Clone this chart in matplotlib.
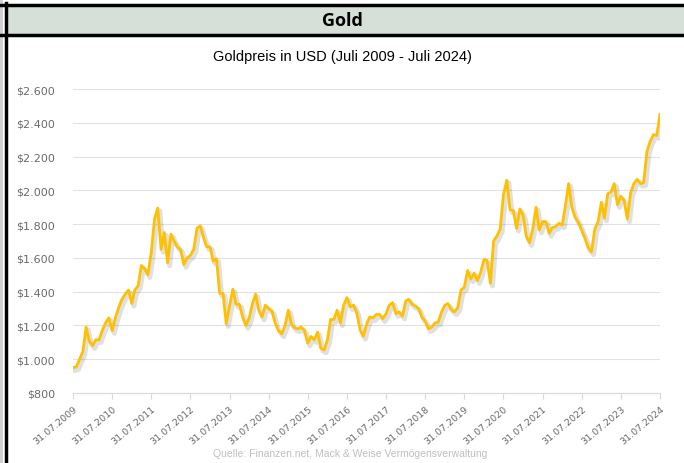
# Goldpreis chart (Juli 2009 - Juli 2024)

import matplotlib
matplotlib.use('Agg')
import matplotlib.pyplot as plt
import matplotlib.patheffects as pe
import matplotlib.dates as mdates
from matplotlib.ticker import FuncFormatter
import pandas as pd

# ------ Data: monthly gold price in USD ------
start_date = '2009-07-31'
price_2009 = [950, 955, 1000, 1045, 1190, 1105]
price_2010 = [1080, 1115, 1115, 1170, 1215, 1245, 1170, 1245, 1305, 1355, 1385, 1410]
price_2011 = [1330, 1410, 1435, 1555, 1535, 1500, 1630, 1830, 1895, 1650, 1750, 1570]
price_2012 = [1740, 1700, 1665, 1650, 1560, 1600, 1615, 1650, 1775, 1790, 1720, 1665]
price_2013 = [1665, 1580, 1595, 1390, 1390, 1210, 1315, 1415, 1325, 1325, 1250, 1200]
price_2014 = [1245, 1325, 1385, 1290, 1250, 1320, 1300, 1285, 1215, 1170, 1150, 1200]
price_2015 = [1290, 1210, 1185, 1180, 1190, 1170, 1095, 1135, 1115, 1160, 1065, 1055]
price_2016 = [1115, 1235, 1235, 1290, 1215, 1320, 1365, 1310, 1320, 1275, 1175, 1135]
price_2017 = [1210, 1250, 1245, 1265, 1265, 1240, 1270, 1320, 1335, 1270, 1280, 1255]
price_2018 = [1345, 1355, 1325, 1315, 1300, 1250, 1225, 1180, 1190, 1215, 1220, 1280]
price_2019 = [1320, 1330, 1295, 1280, 1305, 1410, 1425, 1525, 1475, 1510, 1465, 1515]
price_2020 = [1590, 1585, 1450, 1700, 1730, 1770, 1975, 2060, 1885, 1880, 1775, 1890]
price_2021 = [1850, 1730, 1690, 1770, 1900, 1765, 1815, 1815, 1745, 1780, 1785, 1805]
price_2022 = [1795, 1905, 2040, 1900, 1840, 1810, 1765, 1715, 1660, 1635, 1770, 1815]
price_2023 = [1930, 1835, 1980, 1990, 2040, 1915, 1965, 1940, 1830, 1985, 2040, 2065]
price_2024 = [2040, 2045, 2230, 2290, 2330, 2325, 2450]

prices = (price_2009 + price_2010 + price_2011 + price_2012 + price_2013 + price_2014
          + price_2015 + price_2016 + price_2017 + price_2018 + price_2019 + price_2020
          + price_2021 + price_2022 + price_2023 + price_2024)
dates = pd.date_range(start_date, periods=len(prices), freq='ME')

tick_years = list(range(2009, 2025))
tick_dates = [pd.Timestamp(f'{y}-07-31') for y in tick_years]

# ------ Figure ------
fig = plt.figure(figsize=(6.84, 4.64), dpi=100)

# header band + frame
fig.patches.append(plt.Rectangle((7/684, 1-36/464), 1, 30/464, transform=fig.transFigure,
                                 facecolor='#d6e0d9', edgecolor='none'))
fig.add_artist(plt.Line2D([0, 1], [1-5.5/464, 1-5.5/464], color='black', lw=2.5))
fig.add_artist(plt.Line2D([0, 1], [1-35.5/464, 1-35.5/464], color='black', lw=2.5))
fig.add_artist(plt.Line2D([5.5/684, 5.5/684], [0, 1-4/464], color='black', lw=2.5))
fig.patches.append(plt.Rectangle((0, 0), 3/684, 1, transform=fig.transFigure,
                                 facecolor='#d0d0d0', edgecolor='none'))

fig.text(0.5, 1-21/464, 'Gold', ha='center', va='center', fontsize=13,
         fontweight='bold', family='Open Sans')
fig.text(0.5, 1-57/464, 'Goldpreis in USD (Juli 2009 - Juli 2024)', ha='center',
         va='center', fontsize=10.5, family='Liberation Sans')
fig.text(0.512, 1-454/464, 'Quelle: Finanzen.net, Mack & Weise Vermögensverwaltung',
         ha='center', va='center', fontsize=7.5, color='#bfbfbf', family='Liberation Sans')

ax = fig.add_axes([73/684, 1-394/464, (660-73)/684, (394-90)/464])

ax.plot(dates, prices, color='#FFC000', lw=2.0, solid_joinstyle='round',
        path_effects=[pe.SimpleLineShadow(offset=(1.5, -2), shadow_color='k', alpha=0.12,
                                          linewidth=3.5),
                      pe.Normal()])

ax.set_ylim(800, 2600)
ax.set_yticks(range(800, 2601, 200))
ax.yaxis.set_major_formatter(FuncFormatter(lambda v, p: '${:,.0f}'.format(v).replace(',', '.')))
ax.set_xlim(tick_dates[0], tick_dates[-1])
ax.set_xticks(tick_dates)
ax.xaxis.set_major_formatter(mdates.DateFormatter('%d.%m.%Y'))

ax.grid(axis='y', color='#e2e2e2', lw=0.8)
ax.set_axisbelow(True)
for s in ['top', 'right', 'left']:
    ax.spines[s].set_visible(False)
ax.spines['bottom'].set_color('#d9d9d9')
ax.tick_params(axis='y', length=0, pad=13, labelsize=8, labelcolor='#6a6a6a')
ax.tick_params(axis='x', length=4, color='#d9d9d9', labelsize=6.8, labelcolor='#6a6a6a')
for lab in ax.get_xticklabels():
    lab.set_rotation(40)
    lab.set_ha('right')
    lab.set_rotation_mode('anchor')

plt.savefig('out.png', dpi=100)
